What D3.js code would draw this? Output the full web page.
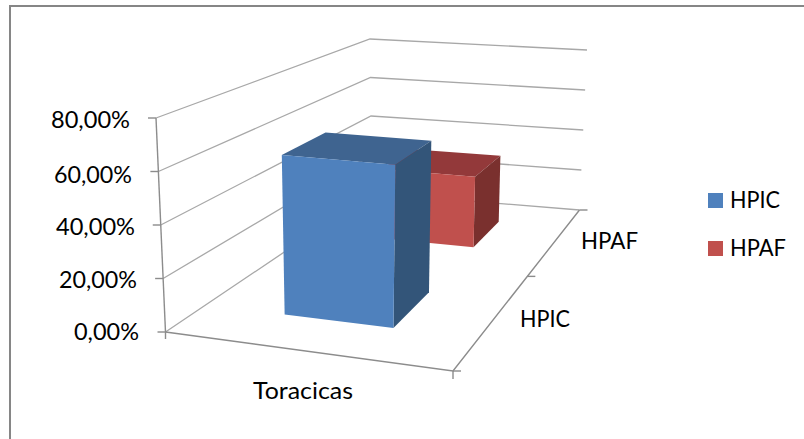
<!DOCTYPE html>
<html>
<head>
<meta charset="utf-8">
<script src="https://cdn.jsdelivr.net/npm/d3@7"></script>
<style>
html,body{margin:0;padding:0;background:#fff}
svg{display:block}
text{font-family:Lato,"Open Sans",sans-serif;fill:#000}
</style>
</head>
<body>
<svg id="chart" width="804" height="439"></svg>
<script>
// Chart data
const categories = ["Toracicas"];
const seriesNames = ["HPIC", "HPAF"];
const hpicValues = [0.62];
const hpafValues = [0.32];
const valueTicks = [0, 0.2, 0.4, 0.6, 0.8];
const seriesColors = ["#4F81BD", "#C0504D"];
const topColors = ["#3F6490", "#93393A"];
const sideColors = ["#335579", "#7A302E"];

const svg = d3.select("#chart");

// Corners of the plot box on screen: [x, y] per (across, deep, up)
const box = {
  "000": [165.5, 332], "100": [453, 371], "010": [372, 193], "110": [579.5, 210],
  "001": [156, 118], "101": [460, 143], "011": [370, 39], "111": [587, 50]
};
// Perspective weights of the four vertical edges (larger means further away)
const edgeWeight = { "00": 1, "10": 0.94, "01": 1.39, "11": 1.34 };

function project(u, v, w) {
  let sx = 0, sy = 0, sw = 0;
  for (const a of [0, 1]) for (const b of [0, 1]) for (const c of [0, 1]) {
    const k = (a ? u : 1 - u) * (b ? v : 1 - v) * (c ? w : 1 - w) * edgeWeight["" + a + b];
    const p = box["" + a + b + c];
    sx += k * p[0]; sy += k * p[1]; sw += k;
  }
  return [sx / sw, sy / sw];
}

// Scales into the unit box
const heightScale = d3.scaleLinear().domain([0, 0.8]).range([0, 1]);
const acrossBand = d3.scaleBand().domain(categories).range([0, 1]).paddingInner(0.6).paddingOuter(0.3);
const depthBand = d3.scaleBand().domain(seriesNames).range([0, 1]).paddingInner(0.6).paddingOuter(0.3);

const fmt = v => d3.format(".2f")(v * 100).replace(".", ",") + "%";
const pathOf = pts => "M" + pts.map(p => p.join(",")).join("L") + "Z";

const gridLine = d3.line();

// Frame: only the top and left edges fall inside the page
svg.append("path").attr("fill", "none").attr("stroke", "#868686").attr("stroke-width", 2)
  .attr("d", gridLine([[10, 439], [10, 6], [804, 6]]));

const grid = svg.append("g").attr("fill", "none").attr("stroke", "#A8A8A8").attr("stroke-width", 1.3);

// Gridlines across the side and back walls
valueTicks.forEach(t => {
  const w = heightScale(t);
  grid.append("path").attr("d", gridLine([project(0, 0, w), project(0, 1, w), project(1, 1, w)]));
});

// Axis lines and tick marks
const axes = svg.append("g").attr("fill", "none").attr("stroke", "#8C8C8C").attr("stroke-width", 1.4);
axes.append("path").attr("d", gridLine([project(0, 0, 0), project(0, 0, 1)]));
axes.append("path").attr("d", gridLine([project(0, 0, 0), project(1, 0, 0), project(1, 1, 0)]));
valueTicks.forEach(t => {
  const p = project(0, 0, heightScale(t));
  axes.append("path").attr("d", gridLine([[p[0] - 8, p[1]], p]));
});
const f0 = project(0, 0, 0), f1 = project(1, 0, 0);
axes.append("path").attr("d", gridLine([f0, [f0[0], f0[1] + 7]]));
axes.append("path").attr("d", gridLine([f1, [f1[0], f1[1] + 8]]));
[0, 0.5, 1].forEach(d => {
  const p = project(1, d, 0);
  axes.append("path").attr("d", gridLine([p, [p[0] + 8, p[1]]]));
});

// One 3D column per series, back to front
const series = seriesNames.map((name, i) => ({
  name, i, value: (i === 0 ? hpicValues : hpafValues)[0]
}));
const bars = svg.append("g");
series.slice().reverse().forEach(s => {
  const u0 = acrossBand(categories[0]), u1 = u0 + acrossBand.bandwidth();
  const v0 = depthBand(s.name), v1 = v0 + depthBand.bandwidth();
  const h = heightScale(s.value);
  const g = bars.append("g");
  g.append("path").attr("fill", topColors[s.i])
    .attr("d", pathOf([project(u0, v0, h), project(u1, v0, h), project(u1, v1, h), project(u0, v1, h)]));
  g.append("path").attr("fill", sideColors[s.i])
    .attr("d", pathOf([project(u1, v0, 0), project(u1, v1, 0), project(u1, v1, h), project(u1, v0, h)]));
  g.append("path").attr("fill", seriesColors[s.i])
    .attr("d", pathOf([project(u0, v0, 0), project(u1, v0, 0), project(u1, v0, h), project(u0, v0, h)]));
});

// Places a label so that it runs exactly from x0 to x1
function label(parent, str, x0, x1, baseline) {
  parent.append("text").attr("x", x0).attr("y", baseline)
    .attr("textLength", x1 - x0).attr("lengthAdjust", "spacingAndGlyphs").text(str);
}

// Value axis labels
const labels = svg.append("g").attr("font-size", 23);
const valueLabelSpans = [[74, 139, 340], [59, 137, 288], [56, 135, 235], [54, 132, 182.7], [51, 130, 128]];
valueTicks.forEach((t, i) => {
  label(labels, fmt(t), valueLabelSpans[i][0], valueLabelSpans[i][1], valueLabelSpans[i][2]);
});

// Category and depth labels
label(labels, categories[0], 253, 353, 399);
label(labels, seriesNames[0], 520, 570, 327);
label(labels, seriesNames[1], 581, 638, 249);

// Legend
const legendY = d3.scalePoint().domain(seriesNames).range([193, 241]);
const legend = svg.append("g").attr("font-size", 23);
seriesNames.forEach((name, i) => {
  legend.append("rect").attr("x", 708).attr("y", legendY(name)).attr("width", 15).attr("height", 15)
    .attr("fill", seriesColors[i]);
  label(legend, name, 730, i === 0 ? 780 : 786, legendY(name) + 15);
});
</script>
</body>
</html>
